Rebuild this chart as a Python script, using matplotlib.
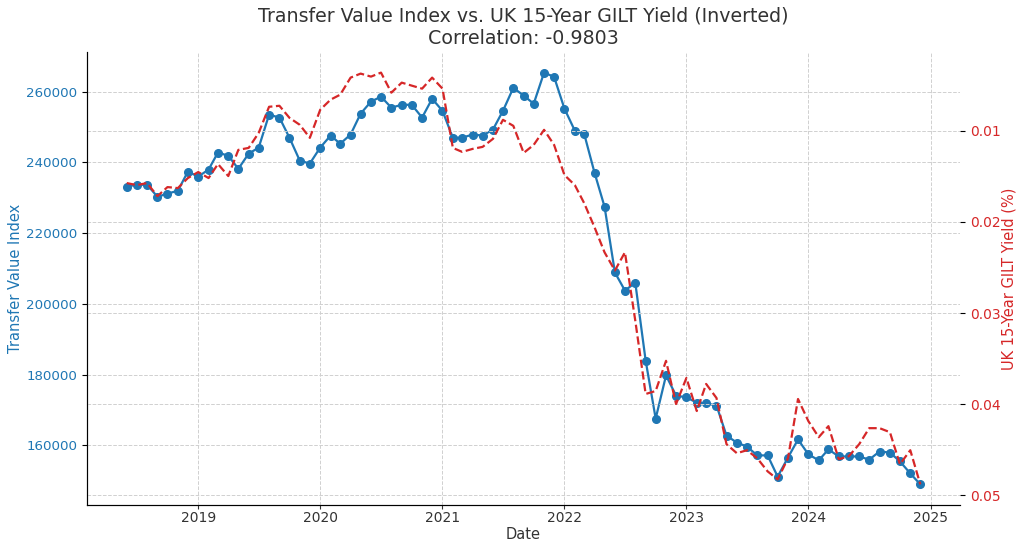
import matplotlib
matplotlib.use("Agg")
import matplotlib.pyplot as plt
import pandas as pd

# monthly observations, Jun 2018 - Dec 2024
dates = pd.date_range("2018-06-01", "2024-12-01", freq="MS")

transfer_value = [
    233200, 233700, 233700, 230300, 231200, 232000, 237400, 236000, 238000, 242800,
    241900, 238200, 242500, 244200, 253500, 252700, 247000, 240500, 239700, 244200,
    247600, 245300, 247900, 253800, 257200, 258600, 255500, 256300, 256300, 252700,
    258000, 254600, 247000, 247000, 247900, 247600, 249300, 254600, 261100, 258900,
    256600, 265400, 264200, 255200, 249000, 248100, 237100, 227500, 208900, 203800,
    206000, 184000, 167600, 179800, 174100, 173600, 172100, 171900, 171300, 162800,
    160800, 159700, 157200, 157200, 151200, 156600, 161700, 157500, 155800, 158900,
    156900, 156900, 156900, 156000, 158300, 158000, 155500, 152100, 149000,
]

gilt_yield = [
    0.01573, 0.01595, 0.01573, 0.01716, 0.01617, 0.01628, 0.01518, 0.01452, 0.01518, 0.01364,
    0.01496, 0.01209, 0.01187, 0.01022, 0.00736, 0.00725, 0.00857, 0.00934, 0.01077, 0.00769,
    0.00658, 0.00603, 0.00416, 0.00372, 0.00405, 0.00361, 0.00581, 0.00471, 0.00504, 0.00537,
    0.00416, 0.00537, 0.01187, 0.01231, 0.01198, 0.01176, 0.01088, 0.00879, 0.00945, 0.01242,
    0.01154, 0.00989, 0.01154, 0.01485, 0.01595, 0.01793, 0.02058, 0.02333, 0.02532, 0.02333,
    0.03083, 0.03887, 0.03854, 0.03523, 0.03997, 0.03711, 0.04074, 0.03777, 0.03931, 0.04438,
    0.04537, 0.04504, 0.04592, 0.04736, 0.04824, 0.04592, 0.03942, 0.04185, 0.04361, 0.04240,
    0.04603, 0.04570, 0.04438, 0.04262, 0.04262, 0.04306, 0.04658, 0.04504, 0.04879,
]

title_lines = ["Transfer Value Index vs. UK 15-Year GILT Yield (Inverted)", "Correlation: -0.9803"]

BLUE = "#1f77b4"
RED = "#d62728"
TEXT = "#333333"

plt.rcParams["font.family"] = ["DejaVu Sans"]
plt.rcParams["font.size"] = 10

fig, ax = plt.subplots(figsize=(10.24, 5.51), dpi=100)
fig.subplots_adjust(left=0.085, right=0.9375, top=0.9056, bottom=0.0835)

ax.plot(dates, transfer_value, color=BLUE, marker="o", markersize=5.5, linewidth=1.6)
ax.set_xlabel("Date", color=TEXT, fontsize=10.5, labelpad=1)
ax.set_ylabel("Transfer Value Index", color=BLUE, fontsize=10.5, labelpad=2)
ax.tick_params(axis="y", labelcolor=BLUE, labelsize=9.6)
ax.tick_params(axis="x", labelsize=10, colors=TEXT, pad=1.5, length=3)
ax.grid(True, linestyle="--", color="#d0d0d0", linewidth=0.7)

ax2 = ax.twinx()
ax2.plot(dates, gilt_yield, color=RED, linestyle="--", linewidth=1.6)
ax2.set_ylabel("UK 15-Year GILT Yield (%)", color=RED, fontsize=10.5, labelpad=1)
ax2.tick_params(axis="y", labelcolor=RED, labelsize=10)
ax2.invert_yaxis()
ax2.grid(True, linestyle="--", color="#d0d0d0", linewidth=0.7)

for a in (ax, ax2):
    a.spines["top"].set_visible(False)
    a.spines["right"].set_visible(False)
ax.spines["left"].set_color(TEXT)
ax.spines["bottom"].set_color(TEXT)

ax.set_title("\n".join(title_lines), color=TEXT, fontsize=13.7)

fig.savefig("out.png", dpi=100)
